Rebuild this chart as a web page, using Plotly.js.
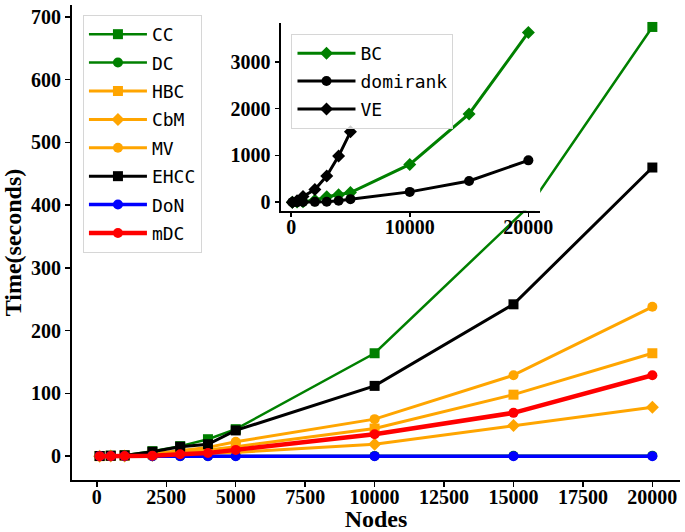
<!DOCTYPE html>
<html>
<head>
<meta charset="utf-8">
<script src="https://cdn.plot.ly/plotly-3.0.1.min.js"></script>
<style>
  body { margin: 0; background: #fff; }
  #chart { width: 685px; height: 532px; }
</style>
</head>
<body>
<div id="chart"></div>
<script>
// main chart data
var nodes = [100, 500, 1000, 2000, 3000, 4000, 5000, 10000, 15000, 20000];
var ccNodes = [100, 500, 1000, 2000, 3000, 4000, 5000, 10000, 15600, 20000];
var cc = [0.3, 0.8, 1.5, 8, 16, 27, 43, 164, 400, 684];
var dc = [0, 0, 0, 0, 0.1, 0.1, 0.2, 0.4, 0.6, 0.8];
var hbc = [0, 0.2, 0.5, 3, 6, 10, 15, 44, 98, 164];
var cbm = [0, 0.1, 0.3, 1.5, 3, 4, 6, 19, 49, 78];
var mv = [0, 0.3, 0.8, 4, 9, 14, 23, 59, 129, 238];
var ehcc = [0.2, 0.6, 1.2, 7, 15, 19, 41, 112, 242, 460];
var don = [0, 0, 0, 0, 0, 0, 0, 0, 0, 0];
var mdc = [0, 0.1, 0.3, 0.8, 3, 5, 10, 35, 69, 129];

// inset data
var veNodes = [100, 500, 1000, 2000, 3000, 4000, 5000];
var bc = [0, 2, 10, 40, 115, 160, 206, 808, 1887, 3632];
var domirank = [0, 0, 1, 6, 7, 28, 64, 219, 453, 894];
var ve = [0, 30, 120, 270, 560, 985, 1504];

var GREEN = '#008000', ORANGE = '#FFA500';

function line(name, x, y, color, symbol, width, inset) {
    return {
        x: x, y: y, name: name, type: 'scatter', mode: 'lines+markers',
        line: {color: color, width: width},
        marker: {color: color, symbol: symbol, size: 10},
        xaxis: inset ? 'x2' : 'x', yaxis: inset ? 'y2' : 'y',
        legend: inset ? 'legend2' : 'legend',
        legendgroup: name
    };
}

var data = [
    line('CC', ccNodes, cc, GREEN, 'square', 2.5),
    line('DC', nodes, dc, GREEN, 'circle', 2.5),
    line('HBC', nodes, hbc, ORANGE, 'square', 3),
    line('CbM', nodes, cbm, ORANGE, 'diamond', 3),
    line('MV', nodes, mv, ORANGE, 'circle', 3),
    line('EHCC', nodes, ehcc, 'black', 'square', 3),
    line('DoN', nodes, don, 'blue', 'circle', 3.5),
    line('mDC', nodes, mdc, 'red', 'circle', 4.5),
    line('BC', nodes, bc, GREEN, 'diamond', 3, true),
    line('domirank', nodes, domirank, 'black', 'circle', 3, true),
    line('VE', veNodes, ve, 'black', 'diamond', 3, true)
];

var SERIF = '"Liberation Serif", "Times New Roman", serif';
var tickFont = {family: SERIF, size: 20, color: 'black', weight: 'bold'};
var titleFont = {family: SERIF, size: 24, color: 'black', weight: 'bold'};
var legFont = {family: '"DejaVu Sans Mono", monospace', size: 18, color: 'black'};

var axisBase = {
    showgrid: false, zeroline: false, showline: true, linecolor: 'black', linewidth: 2,
    ticks: 'outside', ticklen: 5, tickwidth: 1.5, tickcolor: 'black', tickfont: tickFont,
    tickformat: 'd'
};

var layout = {
    width: 685, height: 532,
    margin: {l: 72, r: 5, t: 5, b: 52},
    paper_bgcolor: 'white', plot_bgcolor: 'white',
    xaxis: Object.assign({}, axisBase, {
        range: [-895, 20995], tickvals: [0, 2500, 5000, 7500, 10000, 12500, 15000, 17500, 20000],
        ticklabelstandoff: -7,
        title: {text: 'Nodes', font: titleFont, standoff: 2}
    }),
    yaxis: Object.assign({}, axisBase, {
        range: [-38, 719], tickvals: [0, 100, 200, 300, 400, 500, 600, 700],
        title: {text: 'Time(seconds)', font: titleFont, standoff: 7}
    }),
    xaxis2: Object.assign({}, axisBase, {
        domain: [0.343, 0.770], anchor: 'y2',
        range: [-895, 20995], tickvals: [0, 10000, 20000], ticklen: 4,
        ticklabelstandoff: -7
    }),
    yaxis2: Object.assign({}, axisBase, {
        domain: [0.567, 0.962], anchor: 'x2',
        range: [-183, 3833], tickvals: [0, 1000, 2000, 3000], ticklen: 4
    }),
    legend: {
        x: 0.018, y: 0.979, xanchor: 'left', yanchor: 'top',
        bgcolor: 'rgba(255,255,255,0.8)', bordercolor: '#d6d6d6', borderwidth: 1,
        font: legFont, itemwidth: 58, tracegroupgap: 2, traceorder: 'grouped'
    },
    legend2: {
        x: 0.361, y: 0.939, xanchor: 'left', yanchor: 'top',
        bgcolor: 'rgba(255,255,255,0.8)', bordercolor: '#d6d6d6', borderwidth: 1,
        font: legFont, itemwidth: 58, tracegroupgap: 1.5, traceorder: 'grouped'
    },
    showlegend: true
};

Plotly.newPlot('chart', data, layout, {displayModeBar: false, staticPlot: true});
</script>
</body>
</html>
